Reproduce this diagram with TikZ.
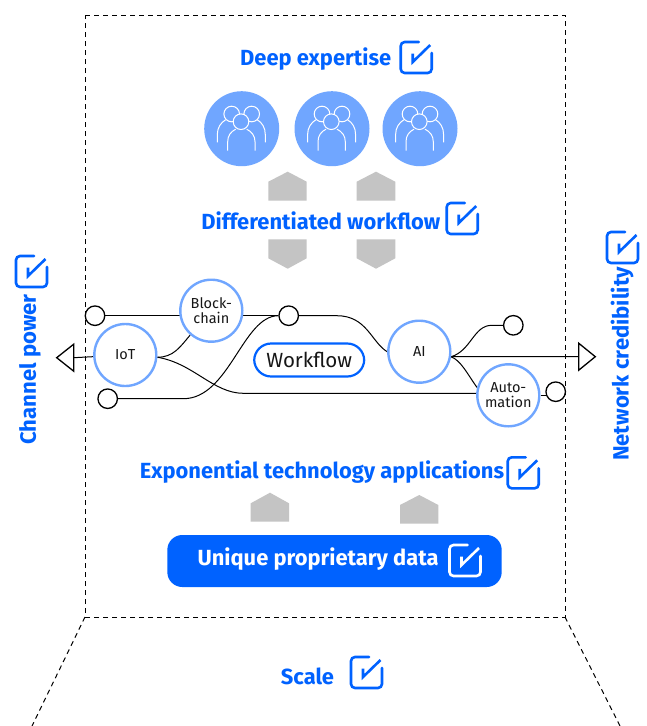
\documentclass[tikz,border=0pt]{standalone}
\usepackage{fontspec}
\setmainfont{Fira Sans}
\usetikzlibrary{backgrounds}
\definecolor{ibmblue}{HTML}{0062FF}
\definecolor{discblue}{HTML}{70A6FF}
\definecolor{chevgray}{HTML}{C4C4C4}
\definecolor{inkdark}{HTML}{161616}
\tikzset{
  head/.style={text=ibmblue,font=\fontsize{#1}{#1}\selectfont\bfseries,inner sep=0pt},
  tech/.style={circle,draw=discblue,line width=2.4pt,fill=white,minimum size=62pt,inner sep=0pt,align=center,text=inkdark,font=\fontsize{14.5}{15}\selectfont},
  port/.style={circle,draw=black,line width=1.3pt,fill=white,minimum size=19.5pt,inner sep=0pt},
  tri/.style={draw=black,line width=1.3pt,fill=white},
  wire/.style={draw=black,line width=1pt},
  frameline/.style={draw=black,line width=1pt,dash pattern=on 5pt off 4pt},
  chev/.style={fill=chevgray},
  disc/.style={circle,fill=discblue,minimum size=75pt,inner sep=0pt},
  pics/chk/.style={code={
    \draw[#1,line width=2.6pt,rounded corners=4pt,line cap=round] (18,0) -- (0,0) -- (0,31) -- (31,31) -- (31,11);
    \draw[#1,line width=2.6pt,line join=miter] (12,11.5) -- (12,20) -- (29.5,3);
  }},
  pics/people/.style={code={
    \begin{scope}[white,line width=1pt]
      \draw (-24.4,13.6) -- (-24.4,6) .. controls (-24.4,-1) and (-21,-6) .. (-16,-9);
      \draw (23.6,13.6) -- (23.6,6) .. controls (23.6,-1) and (20.5,-6) .. (15.5,-9);
      \draw (-10,-14.7) circle (7.8);
      \draw (10,-14.7) circle (7.8);
      \fill[discblue] (-14.5,22) -- (-14.5,11) .. controls (-14.5,5) and (-10,0.5) .. (-6,0.5) -- (4,0.5) .. controls (8,0.5) and (13.8,5) .. (13.8,11) -- (13.8,22) -- cycle;
      \draw (-14,22) -- (-14,13) .. controls (-14,7) and (-11,3) .. (-6,0.5);
      \draw (13.3,22) -- (13.3,13) .. controls (13.3,7) and (10,3) .. (5,0.5);
      \draw[fill=discblue] (-0.7,-7) circle (7.8);
    \end{scope}
  }},
}
\begin{document}
\begin{tikzpicture}[x=1pt,y=-1pt]
\useasboundingbox (0,0) rectangle (646,726);

% dashed frame
\coordinate (tl) at (85,15);
\coordinate (tr) at (565,15);
\coordinate (bl) at (85,617);
\coordinate (br) at (565,617);
\coordinate (fl) at (32,726);
\coordinate (fr) at (620,726);
\draw[frameline] (tl) -- (tr) -- (br) -- (bl) -- cycle;
\draw[frameline] (bl) -- (fl);
\draw[frameline] (br) -- (fr);

% headings
\node[head=21.9] (deep) at (315.7,59.2) {Deep expertise};
\pic at (400.7,42) {chk=ibmblue};
\foreach \n/\cx in {d1/241.7,d2/332,d3/420}{
  \node[disc] (\n) at (\cx,128.7) {};
  \pic at (\cx,128.7) {people};
}
\fill[chev] (268.3,200.7) -- (268.3,181.7) -- (287.7,171.7) -- (306.7,181.7) -- (306.7,200.7) -- cycle;
\fill[chev] (356.7,200.7) -- (356.7,181.7) -- (376,171.7) -- (395.3,181.7) -- (395.3,200.7) -- cycle;
\node[head=21.9] (diff) at (320.8,220.5) {Differentiated workflow};
\pic at (446.7,203) {chk=ibmblue};
\fill[chev] (268.3,239.3) -- (268.3,258.3) -- (287.7,268.7) -- (306.7,258.3) -- (306.7,239.3) -- cycle;
\fill[chev] (356.7,239.3) -- (356.7,258.3) -- (376,268.7) -- (395.3,258.3) -- (395.3,239.3) -- cycle;

% network nodes
\node[tech] (iot) at (125.3,355) {IoT};
\node[tech] (bc) at (211.3,310.7) {Block-\\chain};
\node[tech] (ai) at (419.3,351.7) {AI};
\node[tech] (auto) at (508.3,395.3) {Auto-\\mation};
\node[port] (p1) at (95,315.7) {};
\node[port] (p2) at (107.7,398.7) {};
\node[port] (p3) at (288.7,315.7) {};
\node[port] (p4) at (513.3,325.3) {};
\node[port] (p5) at (555.7,391.7) {};
\node[draw=ibmblue,line width=2.2pt,fill=white,rounded corners=17pt,minimum width=110pt,minimum height=33pt,inner sep=0pt,text=inkdark,font=\fontsize{20.5}{20.5}\selectfont] (wf) at (309.2,360) {Workflow};
\coordinate (tipl) at (73.7,357.7);
\coordinate (tipr) at (578.7,356.7);
\draw[tri] (tipl) ++(0,-13.5) -- ++(0,27) -- (56.7,357.7) -- cycle;
\draw[tri] (tipr) ++(0,-13.5) -- ++(0,27) -- (595.3,356.7) -- cycle;
\coordinate (longbend) at (243.3,393.3);
\coordinate (bendb) at (183.3,398.7);
\coordinate (bendc) at (336.7,315.7);
\coordinate (bendd) at (491.7,325.3);

\begin{scope}[on background layer]
  \fill[white] (0,0) rectangle (646,726);
  \draw[wire] (p1) -- (p3);
  \draw[wire] (iot.-4) .. controls +(16,0) and +(-10,12) .. (bc.-131);
  \draw[wire] (iot.-4) .. controls +(36,6) and +(-30,0) .. (longbend) -- (longbend -| auto);
  \draw[wire] (p2) -- (bendb) .. controls +(46,0) and +(-46,0) .. (p3);
  \draw[wire] (p3) -- (bendc) .. controls +(30,0) and +(-16,-10) .. (ai.west);
  \draw[wire] (ai.-9) .. controls +(20,-6) and +(-18,0) .. (bendd) -- (p4);
  \draw[wire] (ai.-9) .. controls +(10,4) and +(-10,-14) .. (auto.166);
  \draw[wire] (ai.-9) -- (tipr);
  \draw[wire] (tipl) -- (iot);
  \draw[wire] (auto) -- (auto -| p5);
\end{scope}

% lower block
\node[head=21.9] (expo) at (322,471.7) {Exponential technology applications};
\pic at (507.7,457.3) {chk=ibmblue};
\fill[chev] (250.7,521.7) -- (250.7,503.3) -- (270,492.7) -- (289,503.3) -- (289,521.7) -- cycle;
\fill[chev] (400,523.7) -- (400,505) -- (419.3,495) -- (438.3,505) -- (438.3,523.7) -- cycle;
\node[fill=ibmblue,rounded corners=15pt,minimum width=334.4pt,minimum height=52pt,inner sep=0pt] (data) at (334.5,561) {};
\node[head=21.9,text=white] (datat) at (318,559.3) {Unique proprietary data};
\pic at (449.5,545) {chk=white};

% scale
\node[head=21.9] (scale) at (307.5,676) {Scale};
\pic at (351,657) {chk=ibmblue};

% side labels
\node[head=22.1,rotate=90] (chan) at (30,369.5) {Channel power};
\pic at (16,256) {chk=ibmblue};
\node[head=22.1,rotate=90] (net) at (622,364) {Network credibility};
\pic at (607,232) {chk=ibmblue};
\end{tikzpicture}
\end{document}
